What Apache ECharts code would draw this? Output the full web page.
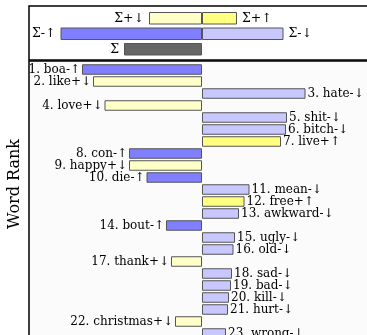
<!DOCTYPE html>
<html>
<head>
<meta charset="utf-8">
<script src="https://cdn.jsdelivr.net/npm/echarts@6/dist/echarts.min.js"></script>
<style>
  html, body { margin: 0; padding: 0; background: #fff; }
  #main { width: 367px; height: 335px; }
</style>
</head>
<body>
<div id="main"></div>
<script>
// word shift: rank order, words, type of contribution, signed size
var words = ['boa', 'like', 'hate', 'love', 'shit', 'bitch', 'live', 'con', 'happy', 'die', 'mean', 'free',
  'awkward', 'bout', 'ugly', 'old', 'thank', 'sad', 'bad', 'kill', 'hurt', 'christmas', 'wrong'];
var types = ['-↑', '+↓', '-↓', '+↓', '-↓', '-↓', '+↑', '-↑', '+↓', '-↑', '-↓', '+↑',
  '-↓', '-↑', '-↓', '-↓', '+↓', '-↓', '-↓', '-↓', '-↓', '+↓', '-↓'];
var shifts = [-120, -109, 103.5, -97.5, 85, 84, 79, -73, -73, -55.5, 47.5, 42.5,
  37, -36, 33, 31.5, -31, 30, 29, 27, 26, -27, 24];

// summary panel
var sumRows = ['Σ+', 'Σ-', 'Σ'];
var sumLeft = [-53, -141.5, -78];     // Σ+↓, Σ-↑, Σ
var sumRight = [35, 81.5, null];      // Σ+↑, Σ-↓
var sumLeftNames = ['Σ+↓', 'Σ-↑', 'Σ'];
var sumRightNames = ['Σ+↑', 'Σ-↓', ''];

var colors = { '-↑': '#7f7fff', '-↓': '#c8c8ff', '+↑': '#ffff80', '+↓': '#ffffc8' };
var sumLeftColors = ['#ffffc8', '#7f7fff', '#666666'];
var sumRightColors = ['#ffff80', '#c8c8ff', '#ffffff'];

var font = 'DejaVu Serif';
var xMax = 173;

var myChart = echarts.init(document.getElementById('main'));

var mainData = shifts.map(function (v, i) {
  return {
    value: v,
    itemStyle: { color: colors[types[i]] },
    label: {
      position: v < 0 ? 'left' : 'right',
      formatter: (i + 1) + '. ' + words[i] + types[i]
    }
  };
});

function sumData(vals, cols, names, pos) {
  return vals.map(function (v, i) {
    return {
      value: v,
      itemStyle: { color: cols[i] },
      label: { position: pos, formatter: names[i] }
    };
  });
}

option = {
  backgroundColor: '#ffffff',
  animation: false,
  graphic: [
    { type: 'rect', z: -1, shape: { x: 29, y: 61, width: 400, height: 300 },
      style: { fill: '#fbfbfb', stroke: '#000', lineWidth: 1.5 } },
    { type: 'rect', z: -1, shape: { x: 29, y: 6, width: 400, height: 54 },
      style: { fill: '#ffffff', stroke: '#000', lineWidth: 1.5 } },
    { type: 'text', x: 15, y: 184, rotation: Math.PI / 2,
      style: { text: 'Word Rank', font: '16px "' + font + '"', fill: '#000',
        textAlign: 'center', textVerticalAlign: 'middle' } }
  ],
  grid: [
    { left: 29, top: 10.5, width: 346, height: 46.5, outerBoundsMode: 'none' },
    { left: 29, top: 63.5, width: 346, height: 276, outerBoundsMode: 'none' }
  ],
  xAxis: [
    { gridIndex: 0, type: 'value', min: -xMax, max: xMax, show: false },
    { gridIndex: 1, type: 'value', min: -xMax, max: xMax, show: false }
  ],
  yAxis: [
    { gridIndex: 0, type: 'category', data: sumRows, inverse: true, show: false },
    { gridIndex: 1, type: 'category', data: words, inverse: true, show: false }
  ],
  series: [
    {
      type: 'bar', xAxisIndex: 0, yAxisIndex: 0, barWidth: 12.5, barGap: '-100%',
      itemStyle: { borderColor: '#555', borderWidth: 1 },
      label: { show: true, color: '#000', fontFamily: font, fontSize: 12.5, distance: 5 },
      data: sumData(sumLeft, sumLeftColors, sumLeftNames, 'left')
    },
    {
      type: 'bar', xAxisIndex: 0, yAxisIndex: 0, barWidth: 12.5, barGap: '-100%',
      itemStyle: { borderColor: '#555', borderWidth: 1 },
      label: { show: true, color: '#000', fontFamily: font, fontSize: 12.5, distance: 5 },
      data: sumData(sumRight, sumRightColors, sumRightNames, 'right')
    },
    {
      type: 'bar', xAxisIndex: 1, yAxisIndex: 1, barWidth: 10.5,
      itemStyle: { borderColor: '#555', borderWidth: 1 },
      label: { show: true, color: '#000', fontFamily: font, fontSize: 12, distance: 2 },
      labelLayout: { hideOverlap: false },
      data: mainData
    }
  ]
};

myChart.setOption(option, true);
</script>
</body>
</html>
